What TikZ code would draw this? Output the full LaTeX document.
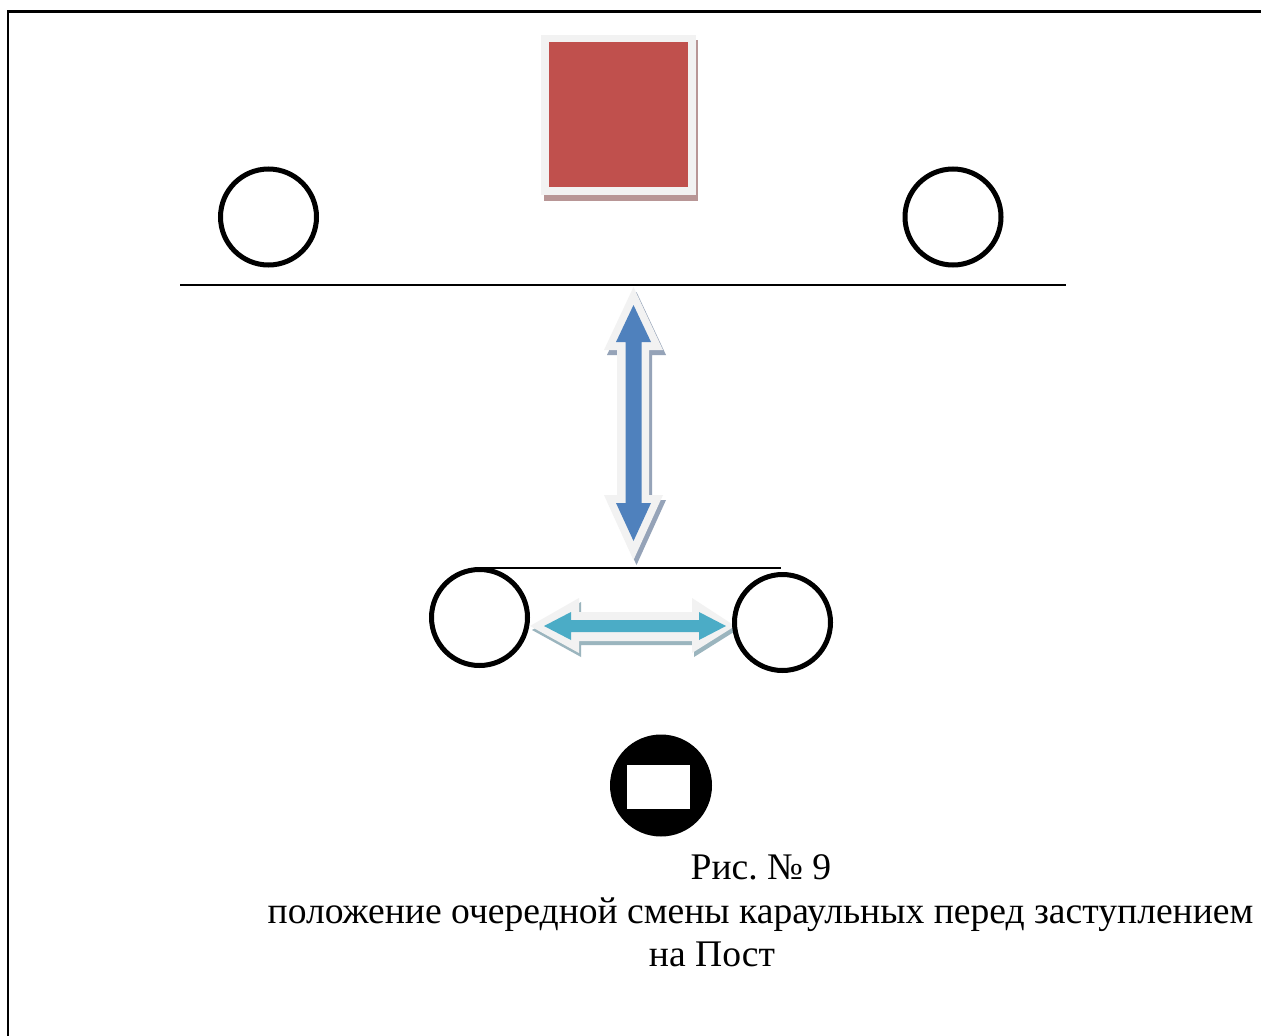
\documentclass[tikz,border=0pt]{standalone}
\usepackage{fontspec}
\setmainfont{Liberation Serif}
\definecolor{bevel}{HTML}{F2F2F2}
\definecolor{redfill}{HTML}{C0504D}
\definecolor{redshadow}{HTML}{B89696}
\definecolor{bluefill}{HTML}{4F81BD}
\definecolor{blueshadow}{HTML}{95A3B8}
\definecolor{tealfill}{HTML}{4BACC6}
\definecolor{tealshadow}{HTML}{9BB5BE}
\tikzset{
  ringnode/.style={circle,draw=black,fill=white,line width=5pt,minimum size=96pt,inner sep=0pt},
  rule/.style={draw=black,line width=1.8pt},
  caption/.style={anchor=base,inner sep=0pt,font=\fontsize{37.6}{37.6}\selectfont\frenchspacing},
}
\newcommand{\vertarrow}{(633.5,287) -- (663,350) -- (649,350) -- (649,495) -- (663,495) -- (633.5,560) -- (604,495) -- (617,495) -- (617,350) -- (604,350) -- cycle}
\newcommand{\horizarrow}{(530,626) -- (579,598) -- (579,612) -- (692,612) -- (692,598) -- (735,626) -- (692,653) -- (692,641) -- (579,641) -- (579,653) -- cycle}
\begin{document}
\begin{tikzpicture}[x=1pt,y=-1pt]
\useasboundingbox (0,0) rectangle (1261,1036);
\fill[white] (0,0) rectangle (1261,1036);
% frame, open at right and bottom
\coordinate (frameA) at (8,1036);
\coordinate (frameB) at (8,11.5);
\coordinate (frameC) at (1261,11.5);
\draw[black,line width=2.4pt] (frameA) -- (frameB) -- (frameC);
% red square
\fill[redshadow] (544,40) rectangle (698,201);
\fill[bevel] (541,35) rectangle (696,195);
\node[fill=redfill,inner sep=0pt,minimum width=139pt,minimum height=145pt] (post) at (618,114.5) {};
% rules
\coordinate (ruleAl) at (180,285);
\coordinate (ruleAr) at (1065.5,285);
\coordinate (ruleBl) at (480,568);
\coordinate (ruleBr) at (781,568);
\draw[rule] (ruleAl) -- (ruleAr);
\draw[rule] (ruleBl) -- (ruleBr);
% vertical double arrow
\fill[blueshadow,shift={(3,5)}] \vertarrow;
\fill[bevel] \vertarrow;
\fill[bluefill] (633.5,305) -- (651,342) -- (641.5,342) -- (641.5,503) -- (651,503) -- (633.5,541) -- (616,503) -- (625.5,503) -- (625.5,342) -- (616,342) -- cycle;
% horizontal double arrow
\fill[tealshadow,shift={(2,4)}] \horizarrow;
\fill[bevel] \horizarrow;
\fill[tealfill] (544,626) -- (571,612) -- (571,620) -- (699,620) -- (699,612) -- (726,626) -- (699,640) -- (699,632) -- (571,632) -- (571,640) -- cycle;
% circles
\node[ringnode] (guardA) at (268.5,217) {};
\node[ringnode] (guardB) at (953,217) {};
\node[ringnode] (guardC) at (479.5,617.5) {};
\node[ringnode] (guardD) at (782.5,622.5) {};
% sentry symbol
\node[circle,fill=black,minimum size=102pt,inner sep=0pt] (sentry) at (661,785.5) {};
\node[fill=white,inner sep=0pt,minimum width=62.5pt,minimum height=44pt] (sentrybox) at (658.7,787.3) {};
% caption
\node[caption] (capA) at (761,879) {Рис. № 9};
\node[caption] (capB) at (760.5,923) {положение очередной смены караульных перед заступлением};
\node[caption] (capC) at (712,966) {на Пост};
\end{tikzpicture}
\end{document}
